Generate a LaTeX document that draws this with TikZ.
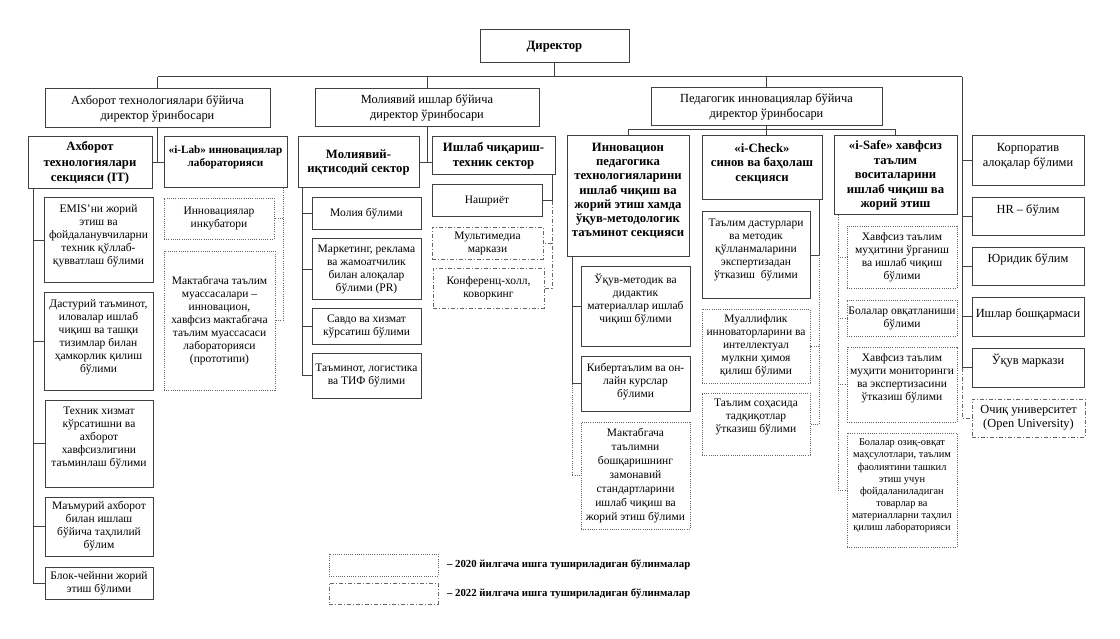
\documentclass[tikz,border=0pt]{standalone}
\usepackage{fontspec}
\setmainfont{Liberation Serif}
\newcommand\fSm{\fontsize{11.5}{13}\selectfont}
\newcommand\fSmb{\fontsize{10.4}{12.2}\selectfont}
\newcommand\fBd{\fontsize{12.7}{14.5}\selectfont\bfseries}
\newcommand\fDp{\fontsize{12.4}{15}\selectfont}
\newcommand\fLg{\fontsize{10.8}{13}\selectfont\bfseries}
\tikzset{
 every node/.style={inner sep=0pt, outer sep=0pt},
 sbox/.style={draw=black!75, line width=1pt},
 dbox/.style={draw=black!60, line width=0.9pt, dash pattern=on 1pt off 1.2pt},
 ddbox/.style={draw=black!60, line width=0.9pt, dash pattern=on 4pt off 2pt on 1pt off 2pt},
 txt/.style={align=center, font=\fSm},
 txtb/.style={align=center, font=\fSm, execute at begin node=\setlength\baselineskip{14pt}},
 stxt/.style={align=center, font=\fSmb},
 btxt/.style={align=center, font=\fBd},
 btxtL/.style={align=center, font={\fontsize{12.7}{15.5}\selectfont\bfseries}},
 btxtS/.style={align=center, font={\fontsize{11.2}{13.3}\selectfont\bfseries}},
 btxtI/.style={align=center, font={\fontsize{12.7}{14.2}\selectfont\bfseries}},
 dtxt/.style={align=center, font=\fDp},
 dtxtS/.style={align=center, font={\fontsize{12.4}{14}\selectfont}},
 ltxt/.style={font=\fLg},
 ln/.style={draw=black!75, line width=1pt},
 dln/.style={draw=black!60, line width=0.9pt, dash pattern=on 1pt off 1.2pt},
 ddln/.style={draw=black!60, line width=0.9pt, dash pattern=on 4pt off 2pt on 1pt off 2pt},
}
% centred box: style, name, x1, y1, x2, y2, text
\newcommand\cbox[7]{%
 \pgfmathsetmacro\bw{#5-#3}\pgfmathsetmacro\bh{#6-#4}%
 \pgfmathsetmacro\bcx{(#3+#5)/2}\pgfmathsetmacro\bcy{(#4+#6)/2}%
 \node[#1, minimum width=\bw pt, minimum height=\bh pt] (#2) at (\bcx,\bcy) {#7};}
% box with text centred at given y: boxstyle, textstyle, name, x1, y1, x2, y2, ytext, text
\newcommand\tbox[9]{%
 \pgfmathsetmacro\bw{#6-#4}\pgfmathsetmacro\bh{#7-#5}%
 \pgfmathsetmacro\bcx{(#4+#6)/2}\pgfmathsetmacro\bcy{(#5+#7)/2}%
 \node[#1, minimum width=\bw pt, minimum height=\bh pt] (#3) at (\bcx,\bcy) {};
 \node[#2] (#3-t) at (\bcx,#8) {#9};}
\begin{document}
\begin{tikzpicture}[x=1pt,y=-1pt]
\fill[white] (0,0) rectangle (1120,639);
\useasboundingbox (0,0) rectangle (1120,639);

% director and deputies
\cbox{sbox,btxt}{dir}{480}{30}{629}{63}{Директор}
\cbox{sbox,dtxt}{depIT}{45}{89}{270}{128}{Ахборот технологиялари бўйича\\директор ўринбосари}
\cbox{sbox,dtxt}{depFin}{315}{89}{539}{127}{Молиявий ишлар бўйича\\директор ўринбосари}
\cbox{sbox,dtxt}{depPed}{651}{88}{882}{126}{Педагогик инновациялар бўйича\\директор ўринбосари}

% sections
\cbox{sbox,btxtL}{itsec}{28}{137}{152}{189}{Ахборот\\технологиялари\\секцияси (IT)}
\tbox{sbox}{btxtS}{ilab}{164}{137}{287}{188}{157.5}{«i-Lab» инновациялар\\лабораторияси}
\cbox{sbox,btxt}{molsec}{298}{137}{419}{188}{Молиявий-\\иқтисодий сектор}
\cbox{sbox,btxt}{prodsec}{432}{137}{555}{175}{Ишлаб чиқариш-\\техник сектор}
\tbox{sbox}{btxtI}{innov}{567}{136}{689}{257}{191}{Инновацион\\педагогика\\технологияларини\\ишлаб чиқиш ва\\жорий этиш хамда\\ўқув-методологик\\таъминот секцияси}
\tbox{sbox}{btxt}{icheck}{702}{136}{822}{200}{163.5}{«i-Check»\\синов ва баҳолаш\\секцияси}
\cbox{sbox,btxt}{isafe}{834}{136}{957}{215}{«i-Safe» хавфсиз\\таълим\\воситаларини\\ишлаб чиқиш ва\\жорий этиш}

% right column
\tbox{sbox}{dtxt}{korp}{972}{136}{1084}{186}{156}{Корпоратив\\алоқалар бўлими}
\tbox{sbox}{dtxt}{hr}{972}{198}{1084}{236}{210}{HR – бўлим}
\tbox{sbox}{dtxt}{yur}{972}{248}{1084}{286}{259}{Юридик бўлим}
\tbox{sbox}{dtxt}{ishlar}{972}{298}{1084}{336}{314}{Ишлар бошқармаси}
\tbox{sbox}{dtxt}{uquv}{972}{348}{1084}{387}{361}{Ўқув маркази}
\cbox{ddbox,dtxtS}{ouni}{972}{399}{1085}{437}{Очиқ университет\\(Open University)}

% IT section children
\tbox{sbox}{txt}{emis}{44}{198}{153}{283}{236}{EMIS’ни жорий\\этиш ва\\фойдаланувчиларни\\техник қўллаб-\\қувватлаш бўлими}
\tbox{sbox}{txt}{dast}{44}{293}{153}{390}{337}{Дастурий таъминот,\\иловалар ишлаб\\чиқиш ва ташқи\\тизимлар билан\\ҳамкорлик қилиш\\бўлими}
\tbox{sbox}{txt}{texn}{45}{400}{153}{487}{438}{Техник хизмат\\кўрсатишни ва\\ахборот\\хавфсизлигини\\таъминлаш бўлими}
\cbox{sbox,txt}{mamur}{45}{497}{153}{556}{Маъмурий ахборот\\билан ишлаш\\бўйича таҳлилий\\бўлим}
\cbox{sbox,txt}{blok}{45}{567}{153}{599}{Блок-чейнни жорий\\этиш бўлими}

% i-Lab children
\cbox{dbox,txt}{inkub}{164}{198}{274}{239}{Инновациялар\\инкубатори}
\cbox{dbox,txt}{mak1}{164}{251}{275}{390}{Мактабгача таълим\\муассасалари –\\инновацион,\\хавфсиз мактабгача\\таълим муассасаси\\лабораторияси\\(прототипи)}

% finance children
\cbox{sbox,txt}{moliya}{312}{198}{421}{230}{Молия бўлими}
\cbox{sbox,txt}{mark}{312}{239}{421}{300}{Маркетинг, реклама\\ва жамоатчилик\\билан алоқалар\\бўлими (PR)}
\cbox{sbox,txt}{savdo}{312}{309}{421}{344}{Савдо ва хизмат\\кўрсатиш бўлими}
\cbox{sbox,txt}{tamin}{312}{353}{421}{398}{Таъминот, логистика\\ва ТИФ бўлими}

% production children
\cbox{sbox,txt}{nashr}{432}{185}{542}{217}{Нашриёт}
\cbox{ddbox,txt}{multi}{432}{227}{543}{259}{Мультимедиа\\маркази}
\cbox{ddbox,txt}{konf}{433}{268}{544}{308}{Конференц-холл,\\коворкинг}

% innovation children
\tbox{sbox}{txt}{uqmet}{581}{267}{690}{346}{299.5}{Ўқув-методик ва\\дидактик\\материаллар ишлаб\\чиқиш бўлими}
\tbox{sbox}{txt}{kiber}{581}{356}{690}{411}{381.5}{Кибертаълим ва он-\\лайн курслар\\бўлими}
\cbox{dbox,txtb}{mak2}{581}{422}{690}{529}{Мактабгача\\таълимни\\бошқаришнинг\\замонавий\\стандартларини\\ишлаб чиқиш ва\\жорий этиш бўлими}

% i-Check children
\tbox{sbox}{txt}{dastur}{702}{212}{810}{299}{249.5}{Таълим дастурлари\\ва методик\\қўлланмаларини\\экспертизадан\\ўтказиш~ бўлими}
\cbox{dbox,txt}{muall}{702}{309}{810}{383}{Муаллифлик\\инноваторларини ва\\интеллектуал\\мулкни ҳимоя\\қилиш бўлими}
\tbox{dbox}{txt}{tadq}{702}{393}{810}{455}{416.5}{Таълим соҳасида\\тадқиқотлар\\ўтказиш бўлими}

% i-Safe children
\cbox{dbox,txt}{xavf1}{847}{226}{957}{288}{Хавфсиз таълим\\муҳитини ўрганиш\\ва ишлаб чиқиш\\бўлими}
\cbox{dbox,txt}{ovqat}{847}{300}{957}{336}{Болалар овқатланиши\\бўлими}
\tbox{dbox}{txt}{xavf2}{847}{347}{957}{422}{378}{Хавфсиз таълим\\муҳити мониторинги\\ва экспертизасини\\ўтказиш бўлими}
\tbox{dbox}{stxt}{ozik}{847}{433}{957}{547}{486}{Болалар озиқ-овқат\\маҳсулотлари, таълим\\фаолиятини ташкил\\этиш учун\\фойдаланиладиган\\товарлар ва\\материалларни таҳлил\\қилиш лабораторияси}

% legend
\cbox{dbox}{leg1}{329}{554}{438}{576}{}
\cbox{ddbox}{leg2}{329}{583}{438}{604}{}
\node[ltxt, anchor=west] (leg1t) at ([xshift=9pt]leg1.east) {– 2020 йилгача ишга тушириладиган бўлинмалар};
\node[ltxt, anchor=west] (leg2t) at ([xshift=9pt]leg2.east) {– 2022 йилгача ишга тушириладиган бўлинмалар};

% ---- connectors ----
\coordinate (yTop) at (0,77);
\coordinate (topR) at (962,77);
\coordinate (yPed) at (0,130);
\draw[ln] (depIT.north |- yTop) -- (topR);
\draw[ln] (dir.south) -- (dir.south |- yTop);
\draw[ln] (depIT.north |- yTop) -- (depIT.north);
\draw[ln] (depFin.north |- yTop) -- (depFin.north);
\draw[ln] (depPed.north |- yTop) -- (depPed.north);

% right column
\draw[ln] (topR) -- (topR |- uquv.west);
\foreach \n in {korp,hr,yur,ishlar,uquv} \draw[ln] (topR |- \n.west) -- (\n.west);
\draw[ddln] (topR |- uquv.west) |- (ouni.west);

% deputies to sections
\draw[ln] (depIT.south) -- (depIT.south |- itsec.east);
\draw[ln] (itsec.east) -- (ilab.west |- itsec.east);
\draw[ln] (depFin.south) -- (depFin.south |- molsec.east);
\draw[ln] (molsec.east) -- (prodsec.west |- molsec.east);
\draw[ln] (innov.north) -- (innov.north |- yPed) -- (isafe.north |- yPed) -- (isafe.north);
\draw[ln] (depPed.south) -- (depPed.south |- icheck.north);

% IT section trunk
\coordinate (itT) at ([xshift=5pt]itsec.south west);
\draw[ln] (itT) |- (blok.west);
\foreach \n in {emis,dast,texn,mamur} \draw[ln] (itT |- \n.west) -- (\n.west);

% i-Lab trunk
\coordinate (ilT) at ([xshift=-4pt]ilab.south east);
\draw[dln] (ilT) |- (mak1.east);
\draw[dln] (ilT |- inkub.east) -- (inkub.east);

% finance trunk
\coordinate (mlT) at ([xshift=4pt]molsec.south west);
\draw[ln] (mlT) |- (tamin.west);
\foreach \n in {moliya,mark,savdo} \draw[ln] (mlT |- \n.west) -- (\n.west);

% production trunk
\coordinate (prT) at ([xshift=-3pt]prodsec.south east);
\draw[ln] (prT) |- (nashr.east);
\draw[ddln] (prT |- nashr.east) |- (konf.east);
\draw[ddln] (prT |- multi.east) -- (multi.east);

% innovation trunk
\coordinate (inT) at ([xshift=5pt]innov.south west);
\draw[ln] (inT) |- (kiber.west);
\draw[ln] (inT |- uqmet.west) -- (uqmet.west);
\draw[dln] (inT |- kiber.west) |- (mak2.west);

% i-Check trunk
\coordinate (icT) at ([xshift=-3pt]icheck.south east);
\draw[ln] (icT) |- (dastur.east);
\draw[dln] (icT |- dastur.east) |- (tadq.east);
\draw[dln] (icT |- muall.east) -- (muall.east);

% i-Safe trunk
\coordinate (isT) at ([xshift=4pt]isafe.south west);
\draw[dln] (isT) |- (ozik.west);
\foreach \n in {xavf1,ovqat,xavf2} \draw[dln] (isT |- \n.west) -- (\n.west);
\end{tikzpicture}
\end{document}
